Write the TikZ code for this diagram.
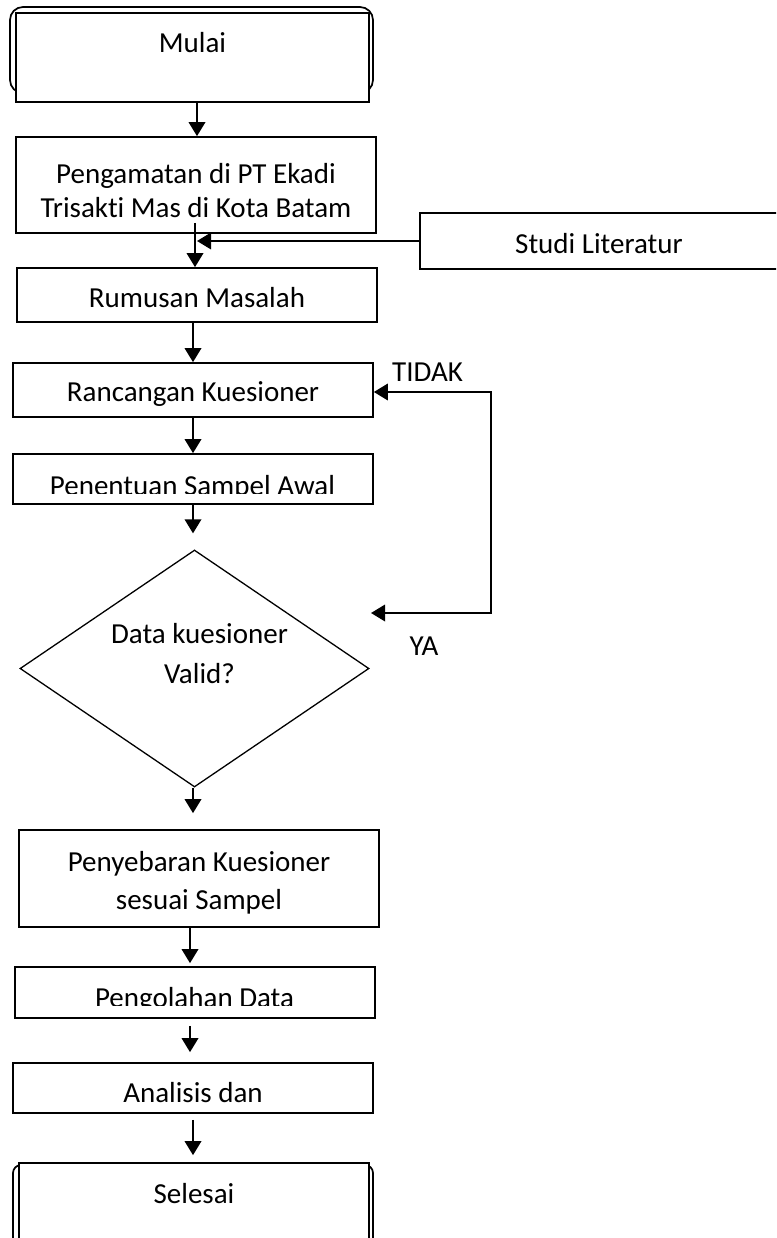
\documentclass[tikz,border=0pt]{standalone}
\usepackage{fontspec}
\setmainfont{Carlito}[Ligatures=NoCommon]
\usetikzlibrary{arrows.meta,shapes.geometric}
\newcommand\tshift[3]{\raisebox{#2}[19pt][0pt]{\kern#1\relax#3\kern-#1\relax}}
\newcommand\mshift[3]{\raisebox{#2}[\height][\depth]{\kern#1\relax\begin{tabular}{@{}c@{}}#3\end{tabular}\kern-#1\relax}}
\begin{document}
\begin{tikzpicture}[x=1pt,y=1pt,
  every node/.style={font=\fontsize{29}{34}\selectfont, inner sep=0pt},
  box/.style={draw, line width=1.7pt, rectangle, fill=white},
  arr/.style={line width=1.9pt, -{Triangle[width=16.5pt,length=14pt]}},
  arrboth/.style={line width=1.9pt, {Triangle[width=16.5pt,length=14pt]}-{Triangle[width=16.5pt,length=14pt]}},
  lbl/.style={anchor=base}]
\useasboundingbox (0,0) rectangle (776,-1238);
\fill[white] (0,0) rectangle (776,-1238);
\clip (0,0) rectangle (776,-1238);

% start
\node[box, rounded corners=13pt, minimum width=363pt, minimum height=86pt] (mulaiback) at (191.5,-50) {};
\node[box, minimum width=353pt, minimum height=89pt] (mulai) at (192.5,-57.5) {\tshift{0pt}{14.5pt}{Mulai}};

\node[box, minimum width=360pt, minimum height=96pt] (peng) at (196,-185) {\mshift{0pt}{-9pt}{Pengamatan di PT Ekadi\\Trisakti Mas di Kota Batam}};
\node[box, minimum width=358pt, minimum height=56pt] (studi) at (599,-241) {\tshift{0pt}{-3pt}{Studi Literatur}};
\node[box, minimum width=360pt, minimum height=54pt] (rum) at (197,-295) {\tshift{0pt}{-3.5pt}{Rumusan Masalah}};
\node[box, minimum width=360pt, minimum height=54pt] (ranc) at (193,-390) {\tshift{0pt}{-2pt}{Rancangan Kuesioner}};
\node[box, minimum width=360pt, minimum height=50pt] (pen) at (193,-479) {};
\begin{scope}
  \clip (14,-455) rectangle (372,-493);
  \node[lbl] (pentxt) at (192.5,-495) {Penentuan Sampel Awal};
\end{scope}

\node[draw, line width=1.3pt, diamond, aspect=1.47, minimum width=349pt, minimum height=237pt, font=\fontsize{29}{40}\selectfont] (dia) at (194.5,-668.5) {\mshift{5pt}{13pt}{Data kuesioner\\Valid?}};

\node[box, minimum width=360pt, minimum height=97pt, font=\fontsize{29}{38}\selectfont] (peny) at (199,-878.5) {\mshift{0pt}{-4pt}{Penyebaran Kuesioner\\sesuai Sampel}};
\node[box, minimum width=360pt, minimum height=51pt] (olah) at (195,-992.5) {};
\begin{scope}
  \clip (16,-968) rectangle (374,-1005);
  \node[lbl] (olahtxt) at (194.5,-1007) {Pengolahan Data};
\end{scope}
\node[box, minimum width=360pt, minimum height=50pt] (anal) at (193,-1088) {\tshift{0pt}{-5pt}{Analisis dan}};

% end
\node[box, rounded corners=8pt, minimum width=360pt, minimum height=100pt] (selback) at (193,-1215) {};
\node[box, minimum width=350pt, minimum height=97pt] (sel) at (194,-1211.5) {\tshift{0pt}{17.5pt}{Selesai}};

% labels
\node[lbl] (tidak) at (427.5,-381) {TIDAK};
\node[lbl] (ya) at (424,-655) {YA};

% helper coordinates
\coordinate (j) at (197,-241);
\coordinate (c1) at (491,-392);
\coordinate (c2) at (491,-613);
\coordinate (yaend) at (371,-613);

% connectors
\draw[arr] ([xshift=4.5pt]mulai.south) -- ([xshift=1pt]peng.north);
\draw[arr] ([xshift=-1pt,yshift=11pt]peng.south) -- ([xshift=-2pt]rum.north);
\draw[arr] (studi.west) -- (j);
\draw[arr] ([xshift=-4pt]rum.south) -- (ranc.north);
\draw[arr] (ranc.south) -- (pen.north);
\draw[arr, shorten >=16pt] (pen.south) -- ([xshift=-1.5pt]dia.north);
\draw[arr, shorten >=16pt] ([xshift=-1.5pt]dia.south) -- ([xshift=-6pt]peny.north);
\draw[arr, shorten >=3pt] ([xshift=-9pt]peny.south) -- ([xshift=-5pt]olah.north);
\draw[arr, shorten <=7pt, shorten >=10pt] ([xshift=-5pt]olah.south) -- ([xshift=-3pt]anal.north);
\draw[arr, shorten <=6pt, shorten >=7pt] (anal.south) -- ([xshift=-1pt]sel.north);
\draw[arrboth] (yaend) -- (c2) -- (c1) -- ([yshift=-2pt]ranc.east);
\end{tikzpicture}
\end{document}
